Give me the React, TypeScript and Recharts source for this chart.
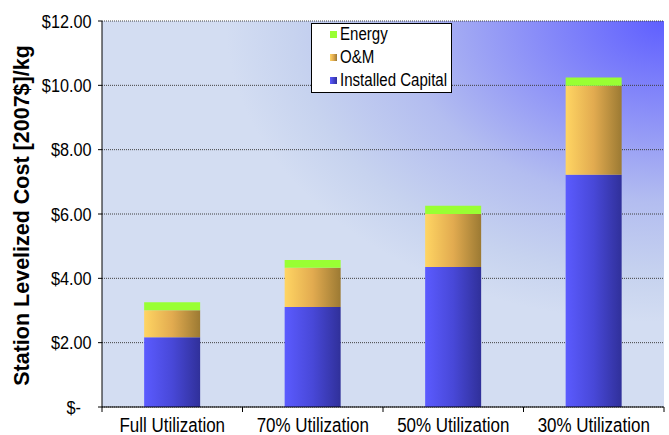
import React from 'react';
import { BarChart, Bar, XAxis, YAxis, CartesianGrid, Legend } from 'recharts';

// Station levelized cost by utilization, stacked by cost component ($/kg, 2007 dollars)
const CATEGORIES = ['Full Utilization', '70% Utilization', '50% Utilization', '30% Utilization'];
const INSTALLED_CAPITAL = [2.17, 3.11, 4.35, 7.22];
const OM = [0.84, 1.22, 1.65, 2.77];
const ENERGY = [0.25, 0.24, 0.26, 0.25];
const Y_TICKS = [0, 2, 4, 6, 8, 10, 12];
const LEGEND_ITEMS = [
  { label: 'Energy', fill: '#99ff33' },
  { label: 'O&M', fill: 'linear-gradient(to right, #ffd563, #e0a94f, #9c7a33)' },
  { label: 'Installed Capital', fill: 'linear-gradient(to right, #5b5bff, #4444d0, #30309a)' },
];

const data = CATEGORIES.map((name, i) => ({
  name,
  capital: INSTALLED_CAPITAL[i],
  om: OM[i],
  energy: ENERGY[i],
}));

const CHART_W = 669;
const CHART_H = 435;
const MARGIN = { top: 21, right: 5, bottom: 0, left: 0 };
const Y_AXIS_W = 102;
const X_AXIS_H = 28;
const PLOT_W = CHART_W - MARGIN.left - MARGIN.right - Y_AXIS_W;
const AXIS_Y = CHART_H - MARGIN.bottom - X_AXIS_H;
const FONT = '"Liberation Sans", Arial, Helvetica, sans-serif';

const money = (v: number) => (v === 0 ? '$-' : `$${v.toFixed(2)}`);

const YTick = (props: any) => {
  const { x, y, payload } = props;
  const shift = payload.value === 0 ? -10.5 : 0;
  return (
    <g transform={`translate(${x + shift},${y}) scale(0.855,1)`}>
      <text x={0} y={0} dy="0.35em" textAnchor="end" fontSize={19} fontFamily={FONT} fill="#000">
        {money(payload.value)}
      </text>
    </g>
  );
};

const XTick = (props: any) => {
  const { x, payload, index } = props;
  const half = PLOT_W / CATEGORIES.length / 2;
  const last = index === CATEGORIES.length - 1;
  return (
    <g>
      <line x1={x - half} x2={x - half} y1={AXIS_Y} y2={AXIS_Y + 5} stroke="#000" />
      {last && <line x1={x + half} x2={x + half} y1={AXIS_Y} y2={AXIS_Y + 5} stroke="#000" />}
      <g transform={`translate(${x},${AXIS_Y + 25}) scale(0.87,1)`}>
        <text x={0} y={0} textAnchor="middle" fontSize={19.5} fontFamily={FONT} fill="#000">
          {payload.value}
        </text>
      </g>
    </g>
  );
};

const YTitle = () => (
  <text
    transform="translate(29,215.5) rotate(-90)"
    textAnchor="middle"
    fontSize={21.5}
    fontWeight="bold"
    fontFamily={FONT}
    fill="#000"
  >
    Station Levelized Cost [2007$]/kg
  </text>
);

const LegendBox = () => (
  <div
    style={{
      width: 141,
      height: 70,
      boxSizing: 'border-box',
      border: '1px solid #000',
      background: '#fff',
      position: 'relative',
      fontFamily: FONT,
    }}
  >
    {LEGEND_ITEMS.map((it, i) => (
      <div key={it.label} style={{ position: 'absolute', left: 18, top: 7 + i * 23, height: 7, width: 120 }}>
        <div style={{ position: 'absolute', left: 0, top: 0, width: 7, height: 7, background: it.fill }} />
        <div
          style={{
            position: 'absolute',
            left: 10,
            top: -7,
            height: 21,
            lineHeight: '21px',
            fontSize: 17.5,
            color: '#000',
            whiteSpace: 'nowrap',
            transform: 'scaleX(0.86)',
            transformOrigin: 'left center',
          }}
        >
          {it.label}
        </div>
      </div>
    ))}
  </div>
);

export default function App() {
  return (
    <div style={{ position: 'absolute', left: 0, top: 0, width: CHART_W, height: CHART_H, background: '#fff' }}>
      <svg width={0} height={0} style={{ position: 'absolute' }}>
        <defs>
          <radialGradient id="plotBg" cx="1" cy="0" r="0.78" fx="1" fy="0">
            <stop offset="0" stopColor="#5f5fff" />
            <stop offset="0.3" stopColor="#8a8ef8" />
            <stop offset="0.6" stopColor="#b3bdf0" />
            <stop offset="0.85" stopColor="#c7d3ef" />
            <stop offset="1" stopColor="#d3ddf2" />
          </radialGradient>
          <linearGradient id="gCapital" x1="0" y1="0" x2="1" y2="0">
            <stop offset="0" stopColor="#5b5bff" />
            <stop offset="0.5" stopColor="#4848d8" />
            <stop offset="1" stopColor="#30309a" />
          </linearGradient>
          <linearGradient id="gOM" x1="0" y1="0" x2="1" y2="0">
            <stop offset="0" stopColor="#ffd563" />
            <stop offset="0.5" stopColor="#e2ab50" />
            <stop offset="1" stopColor="#9c7a33" />
          </linearGradient>
        </defs>
      </svg>
      <BarChart width={CHART_W} height={CHART_H} data={data} margin={MARGIN} barCategoryGap="30%">
        <CartesianGrid vertical={false} stroke="#404040" strokeDasharray="1 1" fill="url(#plotBg)" fillOpacity={1} />
        <XAxis
          dataKey="name"
          height={X_AXIS_H}
          interval={0}
          tickLine={false}
          axisLine={{ stroke: '#000' }}
          tick={<XTick />}
        />
        <XAxis xAxisId="top" orientation="top" dataKey="name" height={0} tick={false} tickLine={false} axisLine={{ stroke: '#888' }} />
        <YAxis
          width={Y_AXIS_W}
          domain={[0, 12]}
          ticks={Y_TICKS}
          interval={0}
          tickSize={4}
          tickMargin={6.5}
          tickLine={{ stroke: '#000' }}
          axisLine={{ stroke: '#000' }}
          tick={<YTick />}
          label={{ content: <YTitle /> }}
        />
        <YAxis yAxisId="right" orientation="right" width={0} domain={[0, 12]} tick={false} tickLine={false} axisLine={{ stroke: '#8a8a8a', strokeWidth: 2 }} />
        <Legend
          layout="vertical"
          align="center"
          verticalAlign="middle"
          content={<LegendBox />}
          wrapperStyle={{ left: 311, top: 23, width: 141, height: 70 }}
        />
        <Bar dataKey="capital" name="Installed Capital" stackId="cost" fill="url(#gCapital)" isAnimationActive={false} />
        <Bar dataKey="om" name="O&M" stackId="cost" fill="url(#gOM)" isAnimationActive={false} />
        <Bar dataKey="energy" name="Energy" stackId="cost" fill="#99ff33" isAnimationActive={false} />
      </BarChart>
    </div>
  );
}
